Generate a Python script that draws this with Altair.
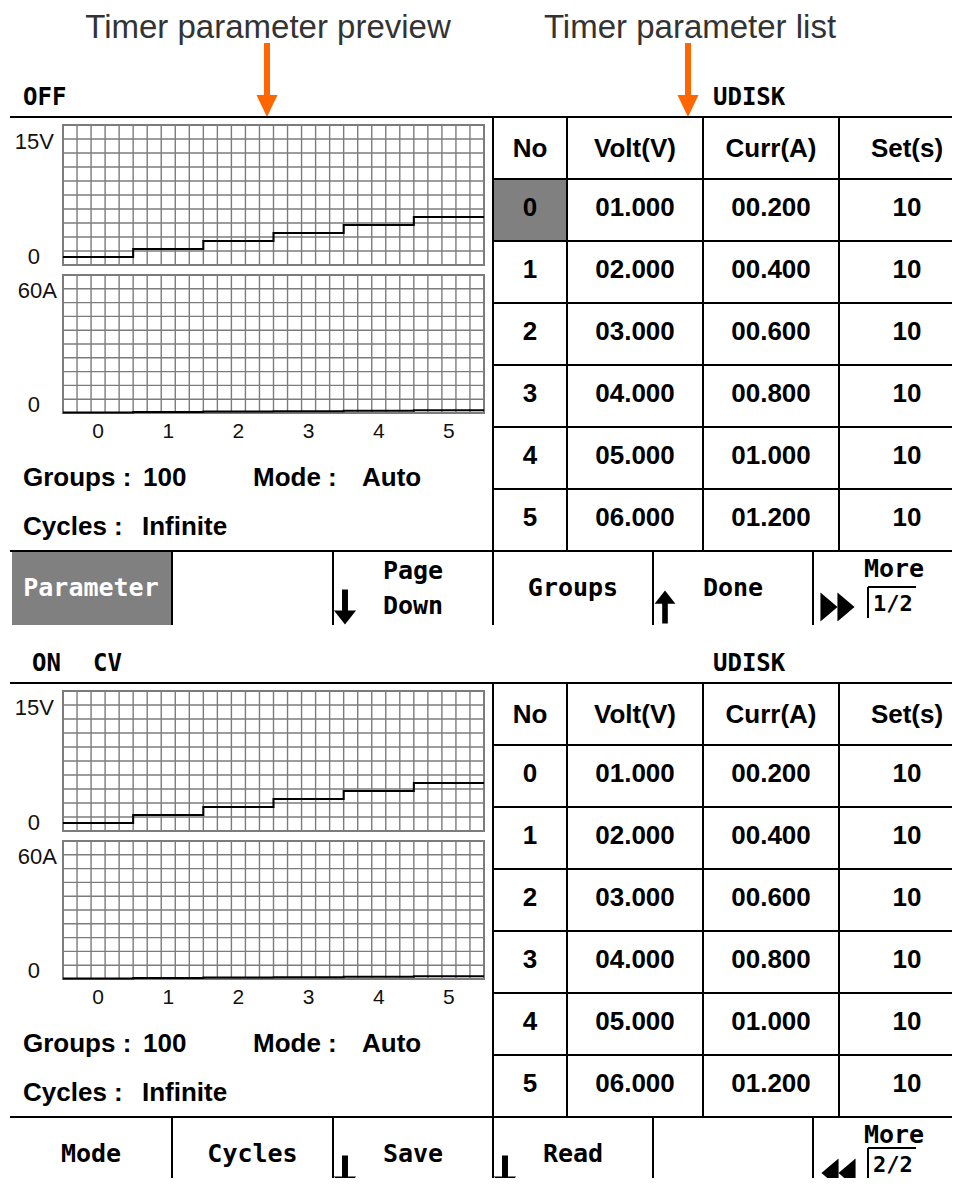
import altair as alt
import pandas as pd

# ---------------- values ----------------
step_no = [0, 1, 2, 3, 4, 5]
volt_set = [1.0, 2.0, 3.0, 4.0, 5.0, 6.0]
curr_set = [0.2, 0.4, 0.6, 0.8, 1.0, 1.2]
time_set = [10, 10, 10, 10, 10, 10]
table_headers = ["No", "Volt(V)", "Curr(A)", "Set(s)"]
volt_scale_max = 17.5
curr_scale_max = 60
volt_ticks = [15, 0]
volt_tick_labels = ["15V", "0"]
curr_ticks = [60, 0]
curr_tick_labels = ["60A", "0"]
groups_value = "100"
mode_value = "Auto"
cycles_value = "Infinite"
info_labels = ["Groups :", "Mode :", "Cycles :"]
annotations = ["Timer parameter preview", "Timer parameter list"]
status_left = [["OFF"], ["ON", "CV"]]
status_right = ["UDISK", "UDISK"]
soft_keys = [["Parameter", "", "Page\nDown", "Groups", "Done", "More"],
             ["Mode", "Cycles", "Save", "Read", "", "More"]]
key_icons = [[None, None, "down", None, "up", "next"],
             [None, None, "down", "down", None, "prev"]]
pages = ["1/2", "2/2"]
selected_row = [0, None]
selected_key = [0, None]

# ---------------- layout ----------------
M = 8
W, H = 944, 1170
SCREEN_DY = [0, 566]
LEFT, RIGHT = 10, 975
SEP_Y = 117
STATUS_Y = 98
STATUS_LEFT_X = [[23], [32, 93]]
STATUS_RIGHT_X = 713
TABLE_COLS = [493, 567, 703, 839, 975]
HEAD_BOTTOM = 179
ROW_H = 62
KEY_TOP, KEY_BOTTOM = 551, 625
KEY_EDGES = [10, 172, 333, 493, 653, 813, 975]
KEY_Y = 588
KEY_LINE_GAP = 35
MORE_Y = 569
ICON_Y = 607
PAGE_Y = 604
PAGE_Y_MAX = M + H - 13
PLOT_X = (63, 484)
VOLT_Y = (265, 125)
CURR_Y = (413, 275)
GRID_PER_STEP = 5
GRID_ROWS = 10
TICK_LABEL_Y = 432
VOLT_TICK_X = [54, 40]
VOLT_TICK_DY = [-3, -8]
CURR_TICK_X = [57, 40]
CURR_TICK_DY = [16, -8]
INFO_Y = [478, 527]
INFO_X = [[23, 143], [253, 362], [23, 142]]
ANNOT_X = [268, 690]
ANNOT_BASE = 38
ARROW_X = [267, 688]
ARROW_Y = 80

GRID = "#7c7c7c"
GRAY = "#808080"
ORANGE = "#FF6600"
MONO = "DejaVu Sans Mono"
SANS = "Liberation Sans"

P_DOWN = "M-0.17,-1L0.17,-1L0.17,0.2L0.63,0.2L0,1L-0.63,0.2L-0.17,0.2Z"
P_UP = "M-0.17,1L0.17,1L0.17,-0.2L0.63,-0.2L0,-1L-0.63,-0.2L-0.17,-0.2Z"
P_ORANGE = "M-0.081,-1L0.081,-1L0.081,0.405L0.284,0.405L0,1L-0.284,0.405L-0.081,0.405Z"
P_RIGHT = "M-0.59,-1L0.59,0L-0.59,1Z"
P_LEFT = "M0.59,-1L-0.59,0L0.59,1Z"


def PX():
    return alt.Scale(domain=[M, M + W], range=[0, W], nice=False, zero=False)


def PY():
    return alt.Scale(domain=[M, M + H], range=[0, H], nice=False, zero=False)


def qx(field, scale):
    return alt.X(f"{field}:Q", scale=scale, axis=None)


def qy(field, scale):
    return alt.Y(f"{field}:Q", scale=scale, axis=None)


def rules(rows, color="black", width=2):
    df = pd.DataFrame(rows, columns=["x", "x2", "y", "y2"])
    return alt.Chart(df).mark_rule(color=color, strokeWidth=width).encode(
        x=qx("x", PX()), x2="x2:Q", y=qy("y", PY()), y2="y2:Q")


def rects(rows, color):
    df = pd.DataFrame(rows, columns=["x", "x2", "y", "y2"])
    return alt.Chart(df).mark_rect(color=color).encode(
        x=qx("x", PX()), x2="x2:Q", y=qy("y", PY()), y2="y2:Q")


def texts(rows, font, size, weight="normal", align="center",
          baseline="middle", color="black"):
    df = pd.DataFrame(rows, columns=["x", "y", "t"])
    return alt.Chart(df).mark_text(
        font=font, fontSize=size, fontWeight=weight, align=align,
        baseline=baseline, color=color).encode(
        x=qx("x", PX()), y=qy("y", PY()), text="t:N")


def glyphs(rows, path, size, color="black"):
    df = pd.DataFrame(rows, columns=["x", "y"])
    return alt.Chart(df).mark_point(
        shape=path, size=size, filled=True, color=color, opacity=1,
        strokeWidth=0).encode(x=qx("x", PX()), y=qy("y", PY()))


def mini(values, vmax, yr, dy, ticks, tick_labels, tick_x, tick_dy, xlabels):
    n = len(values)
    xs = alt.Scale(domain=[0, n], range=[PLOT_X[0] - M, PLOT_X[1] - M],
                   nice=False, zero=False)
    ys = alt.Scale(domain=[0, vmax], range=[yr[0] + dy - M, yr[1] + dy - M],
                   nice=False, zero=False)
    out = []
    vg = pd.DataFrame({"g": [k / GRID_PER_STEP for k in range(n * GRID_PER_STEP + 1)]})
    vg["lo"] = 0
    vg["hi"] = vmax
    out.append(alt.Chart(vg).mark_rule(color=GRID, strokeWidth=1.4).encode(
        x=alt.X("g:Q", scale=xs, axis=None),
        y=alt.Y("lo:Q", scale=ys, axis=None), y2="hi:Q"))
    hg = pd.DataFrame({"g": [vmax * k / GRID_ROWS for k in range(GRID_ROWS + 1)]})
    hg["lo"] = 0
    hg["hi"] = n
    out.append(alt.Chart(hg).mark_rule(color=GRID, strokeWidth=1.4).encode(
        x=alt.X("lo:Q", scale=xs, axis=None), x2="hi:Q",
        y=alt.Y("g:Q", scale=ys, axis=None)))
    bd = pd.DataFrame({"x": [0], "x2": [n], "y": [0], "y2": [vmax]})
    out.append(alt.Chart(bd).mark_rect(fill="white", fillOpacity=0, stroke=GRID,
                                       strokeWidth=2).encode(
        x=alt.X("x:Q", scale=xs, axis=None), x2="x2:Q",
        y=alt.Y("y:Q", scale=ys, axis=None), y2="y2:Q"))
    ln = pd.DataFrame({"s": step_no + [n], "v": values + [values[-1]]})
    out.append(alt.Chart(ln).mark_line(interpolate="step-after", color="black",
                                       strokeWidth=2).encode(
        x=alt.X("s:Q", scale=xs, axis=None),
        y=alt.Y("v:Q", scale=ys, axis=None)))
    for v, t, tx, tdy in zip(ticks, tick_labels, tick_x, tick_dy):
        td = pd.DataFrame({"v": [v], "t": [t], "x": [tx]})
        out.append(alt.Chart(td).mark_text(
            font=SANS, fontSize=22, align="right", baseline="middle",
            dy=tdy, color="#111111").encode(
            x=qx("x", PX()), y=alt.Y("v:Q", scale=ys, axis=None), text="t:N"))
    if xlabels:
        xl = pd.DataFrame({"s": [s + 0.5 for s in step_no],
                           "t": [str(s) for s in step_no],
                           "y": [TICK_LABEL_Y + dy] * n})
        out.append(alt.Chart(xl).mark_text(
            font=SANS, fontSize=21, align="center", baseline="middle",
            color="#111111").encode(
            x=alt.X("s:Q", scale=xs, axis=None), y=qy("y", PY()), text="t:N"))
    return out


layers = []

# annotation texts and orange arrows
layers.append(texts([(x, ANNOT_BASE, t) for x, t in zip(ANNOT_X, annotations)],
                    SANS, 33, baseline="alphabetic", color="#333333"))
layers.append(glyphs([(x, ARROW_Y) for x in ARROW_X], P_ORANGE, 74 * 74, ORANGE))

for s in range(2):
    dy = SCREEN_DY[s]

    # fills
    fills = []
    if selected_row[s] is not None:
        r = selected_row[s]
        fills.append((TABLE_COLS[0], TABLE_COLS[1],
                      HEAD_BOTTOM + ROW_H * r + dy, HEAD_BOTTOM + ROW_H * (r + 1) + dy))
    if selected_key[s] is not None:
        k = selected_key[s]
        fills.append((KEY_EDGES[k] + 2, KEY_EDGES[k + 1], KEY_TOP + 1 + dy, KEY_BOTTOM + dy))
    if fills:
        layers.append(rects(fills, GRAY))

    # lines
    segs = [(LEFT, RIGHT, SEP_Y + dy, SEP_Y + dy),
            (LEFT, RIGHT, KEY_TOP + dy, KEY_TOP + dy)]
    for cx in TABLE_COLS[:-1]:
        segs.append((cx, cx, SEP_Y + dy, KEY_TOP + dy))
    for k in range(len(step_no)):
        yy = HEAD_BOTTOM + ROW_H * k + dy
        segs.append((TABLE_COLS[0], RIGHT, yy, yy))
    for ex in KEY_EDGES[1:-1]:
        segs.append((ex, ex, KEY_TOP + dy, KEY_BOTTOM + dy))
    py = min(PAGE_Y + dy, PAGE_Y_MAX)
    bx = KEY_EDGES[5] + 55
    segs.append((bx, bx, py - 17, py + 14))
    segs.append((bx, bx + 48, py - 17, py - 17))
    layers.append(rules(segs))

    # mini charts
    layers += mini(volt_set, volt_scale_max, VOLT_Y, dy, volt_ticks,
                   volt_tick_labels, VOLT_TICK_X, VOLT_TICK_DY, False)
    layers += mini(curr_set, curr_scale_max, CURR_Y, dy, curr_ticks,
                   curr_tick_labels, CURR_TICK_X, CURR_TICK_DY, True)

    # status line
    st = [(x, STATUS_Y + dy, t) for x, t in zip(STATUS_LEFT_X[s], status_left[s])]
    st.append((STATUS_RIGHT_X, STATUS_Y + dy, status_right[s]))
    layers.append(texts(st, MONO, 24, weight="bold", align="left"))

    # table
    centers = [(TABLE_COLS[i] + TABLE_COLS[i + 1]) / 2 for i in range(4)]
    cells = [(centers[i], (SEP_Y + HEAD_BOTTOM) / 2 + 1 + dy, h)
             for i, h in enumerate(table_headers)]
    for r, (no, v, c, t) in enumerate(zip(step_no, volt_set, curr_set, time_set)):
        yy = HEAD_BOTTOM + ROW_H * (r + 0.5) - 2 + dy
        for i, val in enumerate([str(no), f"{v:06.3f}", f"{c:06.3f}", str(t)]):
            cells.append((centers[i], yy, val))
    layers.append(texts(cells, SANS, 26, weight="bold"))

    # info lines
    info = [(INFO_X[0][0], INFO_Y[0] + dy, info_labels[0]),
            (INFO_X[0][1], INFO_Y[0] + dy, groups_value),
            (INFO_X[1][0], INFO_Y[0] + dy, info_labels[1]),
            (INFO_X[1][1], INFO_Y[0] + dy, mode_value),
            (INFO_X[2][0], INFO_Y[1] + dy, info_labels[2]),
            (INFO_X[2][1], INFO_Y[1] + dy, cycles_value)]
    layers.append(texts(info, SANS, 26, weight="bold", align="left"))

    # soft keys
    dark, light = [], []
    downs, ups, nexts, prevs = [], [], [], []
    for k, label in enumerate(soft_keys[s]):
        cx = (KEY_EDGES[k] + KEY_EDGES[k + 1]) / 2
        icon = key_icons[s][k]
        lines = label.split("\n") if label else []
        if icon in ("next", "prev"):
            ys_ = [MORE_Y]
        elif len(lines) == 2:
            ys_ = [KEY_Y - KEY_LINE_GAP / 2, KEY_Y + KEY_LINE_GAP / 2]
        else:
            ys_ = [KEY_Y]
        for ln_, yy in zip(lines, ys_):
            (light if selected_key[s] == k else dark).append((cx, yy + dy, ln_))
        ix = KEY_EDGES[k]
        if icon == "down":
            downs.append((ix + 12, ICON_Y + dy))
        elif icon == "up":
            ups.append((ix + 12, ICON_Y + dy))
        elif icon == "next":
            nexts += [(ix + 16, ICON_Y + dy), (ix + 33, ICON_Y + dy)]
        elif icon == "prev":
            prevs += [(ix + 17, ICON_Y + dy), (ix + 34, ICON_Y + dy)]
    layers.append(texts(dark, MONO, 25, weight="bold"))
    if light:
        layers.append(texts(light, MONO, 25, weight="bold", color="white"))
    layers.append(texts([(KEY_EDGES[5] + 60, py, pages[s])], MONO, 22,
                        weight="bold", align="left"))
    if downs:
        layers.append(glyphs(downs, P_DOWN, 35 * 35))
    if ups:
        layers.append(glyphs(ups, P_UP, 33 * 33))
    if nexts:
        layers.append(glyphs(nexts, P_RIGHT, 29 * 29))
    if prevs:
        layers.append(glyphs(prevs, P_LEFT, 29 * 29))

chart = alt.layer(*layers).resolve_scale(
    x="independent", y="independent"
).properties(
    width=W, height=H, padding=0, autosize="none", background="white"
).configure_view(stroke="transparent")

chart.save("out.html", embed_options={"renderer": "svg", "actions": False})
